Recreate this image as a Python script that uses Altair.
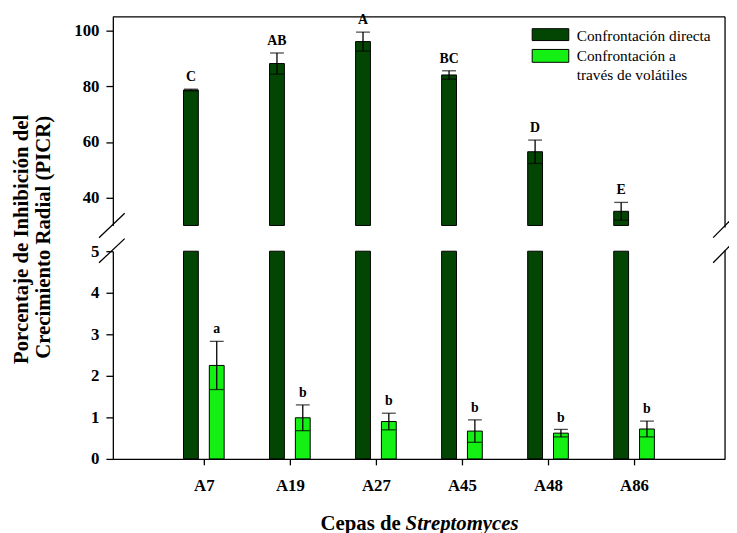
import json
import altair as alt
import pandas as pd

# ---------------- data ----------------
strains = ["A7", "A19", "A27", "A45", "A48", "A86"]
series = ["Confrontación directa", "Confrontación a través de volátiles"]
legend_lines = [["Confrontación directa"], ["Confrontación a", "través de volátiles"]]
colors = ["#034603", "#14f014"]

direct_mean = [78.7, 88.2, 96.1, 84.1, 56.5, 35.1]
direct_err = [0.3, 3.8, 3.4, 1.5, 4.2, 3.2]
direct_letters = ["C", "AB", "A", "BC", "D", "E"]

volatile_mean = [2.25, 0.99, 0.90, 0.67, 0.62, 0.72]
volatile_err = [0.58, 0.31, 0.20, 0.27, 0.09, 0.19]
volatile_letters = ["a", "b", "b", "b", "b", "b"]

upper_ticks = [40, 60, 80, 100]
lower_ticks = [0, 1, 2, 3, 4, 5]
upper_domain = [30, 105]
lower_domain = [0, 5]

y_title = ["Porcentaje de Inhibición del", "Crecimiento Radial (PICR)"]
x_title_plain = "Cepas de"
x_title_italic = "Streptomyces"

# ---------------- layout constants ----------------
W, H = 619, 447
UPPER_RANGE = [211, 0]
LOWER_RANGE = [447, 237]
OFF = 0.15
FONT = "Liberation Serif"

rows = []
for i, s in enumerate(strains):
    rows.append(dict(strain=s, pos=i + 1 - OFF, series=series[0], mean=direct_mean[i],
                     lo=direct_mean[i] - direct_err[i], hi=direct_mean[i] + direct_err[i],
                     letter=direct_letters[i]))
    rows.append(dict(strain=s, pos=i + 1 + OFF, series=series[1], mean=volatile_mean[i],
                     lo=volatile_mean[i] - volatile_err[i], hi=volatile_mean[i] + volatile_err[i],
                     letter=volatile_letters[i]))
df = pd.DataFrame(rows)
dark = df[df.series == series[0]]
light = df[df.series == series[1]]
one = pd.DataFrame({"a": [0]})

x_enc = alt.X("pos:Q",
              scale=alt.Scale(domain=[0, 7], nice=False, zero=False),
              axis=alt.Axis(values=list(range(1, len(strains) + 1)),
                            labelExpr=f"{json.dumps(strains)}[datum.value - 1]",
                            title=None, grid=False, tickSize=6, labelPadding=13,
                            labelFont=FONT, labelFontSize=17, labelFontWeight="bold",
                            labelColor="black"))
color_enc = alt.Color("series:N", scale=alt.Scale(domain=series, range=colors), legend=None)


def yscale(domain, rng):
    return alt.Scale(domain=domain, range=rng, clamp=True, nice=False, zero=False)


def yaxis(values):
    return alt.Axis(values=values, title=None, grid=False, orient="left",
                    tickSize=7, labelPadding=7, labelFont=FONT, labelFontSize=17,
                    labelFontWeight="bold", labelColor="black")


def panel(data, domain, rng, ticks, err_data, baseline):
    sc = yscale(domain, rng)
    ax = yaxis(ticks)
    bars = alt.Chart(data).mark_bar(orient="vertical", size=15, stroke="black",
                                    strokeWidth=1).encode(
        x=x_enc, y=alt.Y("mean:Q", scale=sc, axis=ax), y2=alt.datum(baseline), color=color_enc)
    rule = alt.Chart(err_data).mark_rule(color="black", strokeWidth=1.3).encode(
        x=x_enc, y=alt.Y("lo:Q", scale=sc, axis=ax), y2="hi:Q")
    cap_hi = alt.Chart(err_data).mark_tick(orient="horizontal", size=14, thickness=1.3,
                                           color="black").encode(
        x=x_enc, y=alt.Y("hi:Q", scale=sc, axis=ax))
    cap_lo = alt.Chart(err_data).mark_tick(orient="horizontal", size=14, thickness=1.3,
                                           color="black").encode(
        x=x_enc, y=alt.Y("lo:Q", scale=sc, axis=ax))
    letters = alt.Chart(err_data).mark_text(font=FONT, fontSize=14, fontWeight="bold",
                                            color="black", baseline="middle", dy=-12).encode(
        x=x_enc, y=alt.Y("hi:Q", scale=sc, axis=ax), text="letter:N")
    return alt.layer(bars, rule, cap_hi, cap_lo, letters)


upper = panel(dark, upper_domain, UPPER_RANGE, upper_ticks, dark, upper_domain[0])
lower = panel(df, lower_domain, LOWER_RANGE, lower_ticks, light, lower_domain[0])


def line(x1, y1, x2, y2):
    return alt.Chart(one).mark_rule(color="black", strokeWidth=1.3).encode(
        x=alt.value(x1), y=alt.value(y1), x2=alt.value(x2), y2=alt.value(y2))


deco = [
    line(0, 0, W, 0),            # top frame
    line(W, 0, W, 213),          # right frame upper
    line(W, 236, W, H),          # right frame lower
    line(-14, 223.3, 12, 198.7),  # break marks left
    line(-14, 248.7, 12, 224.3),
    line(607, 223.3, 631, 199),   # break marks right
    line(607, 248.7, 631, 224.3),
]

# legend
legend_layers = []
sw_y = [(12, 24), (33, 46)]
text_y = [[19.3], [39.3, 58.9]]
for k in range(len(series)):
    legend_layers.append(alt.Chart(one).mark_rect(fill=colors[k], stroke="black", strokeWidth=1).encode(
        x=alt.value(424), x2=alt.value(461), y=alt.value(sw_y[k][0]), y2=alt.value(sw_y[k][1])))
    for j, t in enumerate(legend_lines[k]):
        legend_layers.append(alt.Chart(one).mark_text(font=FONT, fontSize=15.5, align="left",
                                                      baseline="middle", color="black", text=t).encode(
            x=alt.value(469), y=alt.value(text_y[k][j])))

# axis titles
titles = [
    alt.Chart(one).mark_text(font=FONT, fontSize=21, fontWeight="bold", angle=270, align="center",
                             baseline="middle", color="black", text=y_title[0]).encode(
        x=alt.value(-92), y=alt.value(225)),
    alt.Chart(one).mark_text(font=FONT, fontSize=21, fontWeight="bold", angle=270, align="center",
                             baseline="middle", color="black", text=y_title[1]).encode(
        x=alt.value(-70), y=alt.value(223)),
    alt.Chart(one).mark_text(font=FONT, fontSize=21, fontWeight="bold", align="right",
                             baseline="middle", color="black", text=x_title_plain).encode(
        x=alt.value(291), y=alt.value(513)),
    alt.Chart(one).mark_text(font=FONT, fontSize=21, fontWeight="bold", fontStyle="italic",
                             align="left", baseline="middle", color="black",
                             text=x_title_italic).encode(
        x=alt.value(296), y=alt.value(513)),
]

chart = alt.layer(upper, lower, *deco, *legend_layers, *titles).resolve_scale(
    y="independent").resolve_axis(y="independent").properties(
    width=W, height=H,
    autosize=alt.AutoSizeParams(type="none"),
    padding={"left": 106, "top": 6, "right": 4, "bottom": 72},
).configure_view(stroke=None).configure_axis(
    domainColor="black", domainWidth=1.3, tickColor="black", tickWidth=1.3,
    labelFont=FONT, labelFontSize=17, labelFontWeight="bold", labelColor="black",
)

chart.save("out.html", embed_options={"renderer": "svg", "actions": False})
